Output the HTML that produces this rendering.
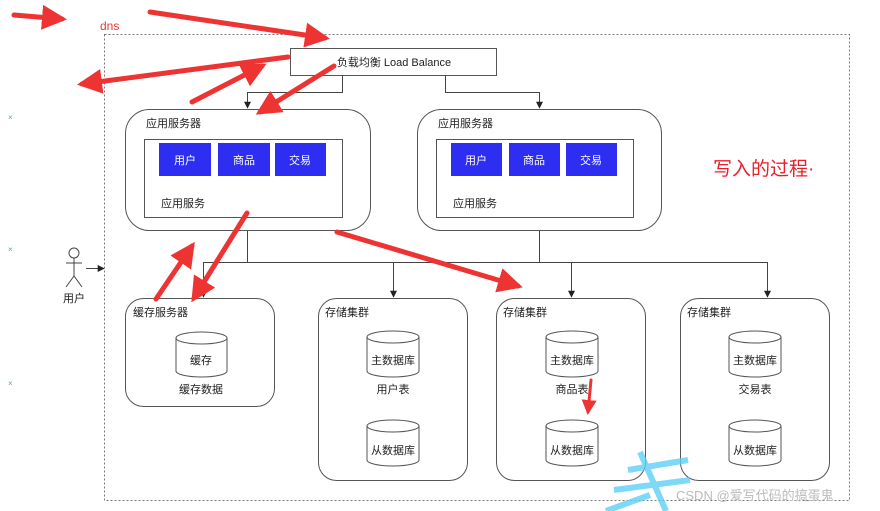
<!DOCTYPE html>
<html><head><meta charset="utf-8"><style>
html,body{margin:0;padding:0;background:#fff;}
svg{display:block;}
text{font-family:"Liberation Sans","Noto Sans CJK SC",sans-serif;}
</style></head><body>
<svg width="880" height="511" viewBox="0 0 880 511" xmlns="http://www.w3.org/2000/svg">
<defs>
<marker id="ba" viewBox="0 0 10 10" refX="9" refY="5" markerWidth="7" markerHeight="7" markerUnits="userSpaceOnUse" orient="auto"><path d="M0,0L10,5L0,10z" fill="#222"/></marker>
<marker id="ra" viewBox="0 0 10 10" refX="8" refY="5" markerWidth="5" markerHeight="5" orient="auto"><path d="M0,0L10,5L0,10z" fill="#ee3333"/></marker>
</defs>
<rect x="0" y="0" width="880" height="511" fill="#fff"/>
<rect x="104.5" y="34.5" width="745" height="466" fill="none" stroke="#777" stroke-width="1" stroke-dasharray="2,2"/>
<g fill="#4ab" font-size="8"><text x="8" y="120">×</text><text x="8" y="252">×</text><text x="8" y="386">×</text></g>
<rect x="290.5" y="48.5" width="206" height="27" fill="#fff" stroke="#555"/>
<text x="394" y="66" font-size="11" text-anchor="middle" fill="#222">负载均衡 Load Balance</text>
<g fill="none" stroke="#444" stroke-width="1">
<path d="M342.5,75V92.5H247.5V108" marker-end="url(#ba)"/>
<path d="M445.5,75V92.5H539.5V108" marker-end="url(#ba)"/>
<path d="M247.5,230V262.5M539.5,230V262.5M203.5,262.5H767.5"/>
<path d="M203.5,262V297" marker-end="url(#ba)"/>
<path d="M393.5,262V297" marker-end="url(#ba)"/>
<path d="M571.5,262V297" marker-end="url(#ba)"/>
<path d="M767.5,262V297" marker-end="url(#ba)"/>
<path d="M86,268.5H104" marker-end="url(#ba)"/>
</g>
<g stroke="#555" fill="none">
<rect x="125.5" y="109.5" width="245" height="121" rx="24"/>
<rect x="144.5" y="139.5" width="198" height="78"/>
<rect x="417.5" y="109.5" width="244" height="121" rx="24"/>
<rect x="436.5" y="139.5" width="197" height="78"/>
</g>
<g fill="#2e2ef2">
<rect x="159" y="143" width="52" height="33"/><rect x="218" y="143" width="52" height="33"/><rect x="275" y="143" width="51" height="33"/>
<rect x="451" y="143" width="51" height="33"/><rect x="509" y="143" width="51" height="33"/><rect x="566" y="143" width="51" height="33"/>
</g>
<g fill="#fff" font-size="11" text-anchor="middle">
<text x="185" y="164">用户</text><text x="244" y="164">商品</text><text x="300" y="164">交易</text>
<text x="476" y="164">用户</text><text x="534" y="164">商品</text><text x="591" y="164">交易</text>
</g>
<g fill="#222" font-size="11">
<text x="146" y="127">应用服务器</text><text x="161" y="207">应用服务</text>
<text x="438" y="127">应用服务器</text><text x="453" y="207">应用服务</text>
</g>
<g stroke="#555" fill="none">
<rect x="125.5" y="298.5" width="149" height="108" rx="18"/>
<rect x="318.5" y="298.5" width="149" height="182" rx="18"/>
<rect x="496.5" y="298.5" width="149" height="182" rx="18"/>
<rect x="680.5" y="298.5" width="149" height="182" rx="18"/>
</g>
<g fill="#222" font-size="11">
<text x="133" y="316">缓存服务器</text>
<text x="325" y="316">存储集群</text><text x="503" y="316">存储集群</text><text x="687" y="316">存储集群</text>
</g>
<g stroke="#555" fill="#fff">
<path d="M176,338v33a25.5,6 0 0 0 51,0v-33"/><ellipse cx="201.5" cy="338" rx="25.5" ry="6"/>
<path d="M367,337v34a26,6 0 0 0 52,0v-34"/><ellipse cx="393" cy="337" rx="26" ry="6"/>
<path d="M367,426v34a26,6 0 0 0 52,0v-34"/><ellipse cx="393" cy="426" rx="26" ry="6"/>
<path d="M546,337v34a26,6 0 0 0 52,0v-34"/><ellipse cx="572" cy="337" rx="26" ry="6"/>
<path d="M546,426v34a26,6 0 0 0 52,0v-34"/><ellipse cx="572" cy="426" rx="26" ry="6"/>
<path d="M729,337v34a26,6 0 0 0 52,0v-34"/><ellipse cx="755" cy="337" rx="26" ry="6"/>
<path d="M729,426v34a26,6 0 0 0 52,0v-34"/><ellipse cx="755" cy="426" rx="26" ry="6"/>
</g>
<g fill="#222" font-size="11" text-anchor="middle">
<text x="201" y="364">缓存</text><text x="201" y="393">缓存数据</text>
<text x="393" y="364">主数据库</text><text x="393" y="393">用户表</text><text x="393" y="454">从数据库</text>
<text x="572" y="364">主数据库</text><text x="572" y="393">商品表</text><text x="572" y="454">从数据库</text>
<text x="755" y="364">主数据库</text><text x="755" y="393">交易表</text><text x="755" y="454">从数据库</text>
<text x="74" y="302">用户</text>
</g>
<g stroke="#444" fill="none">
<circle cx="74" cy="253" r="5"/><path d="M74,258V276M66,263H82M74,276L66,287M74,276L82,287"/>
</g>
<g stroke="#5cd0f5" stroke-width="6" fill="none" opacity="0.8">
<path d="M640,452L666,511M628,470L688,460M614,490L690,480M606,511L650,495"/>
</g>
<text x="676" y="500" font-size="13" fill="#bbb">CSDN @爱写代码的搞蛋鬼</text>
<text x="100" y="30" font-size="12" fill="#e33">dns</text>
<text x="713" y="175" font-size="19" fill="#e8202a">写入的过程·</text>
<g stroke="#ee3333" stroke-width="5" stroke-linecap="round" marker-end="url(#ra)">
<line x1="14" y1="15" x2="62" y2="19"/>
<line x1="150" y1="12" x2="325" y2="38"/>
<line x1="288" y1="57" x2="82" y2="84"/>
<line x1="192" y1="102" x2="262" y2="66"/>
<line x1="334" y1="66" x2="260" y2="112"/>
<line x1="247" y1="213" x2="194" y2="298"/>
<line x1="156" y1="299" x2="192" y2="246"/>
<line x1="337" y1="232" x2="518" y2="286"/>
</g>
<line x1="591" y1="380" x2="588" y2="412" stroke="#ee3333" stroke-width="3" stroke-linecap="round" marker-end="url(#ra)"/>
</svg>
</body></html>
